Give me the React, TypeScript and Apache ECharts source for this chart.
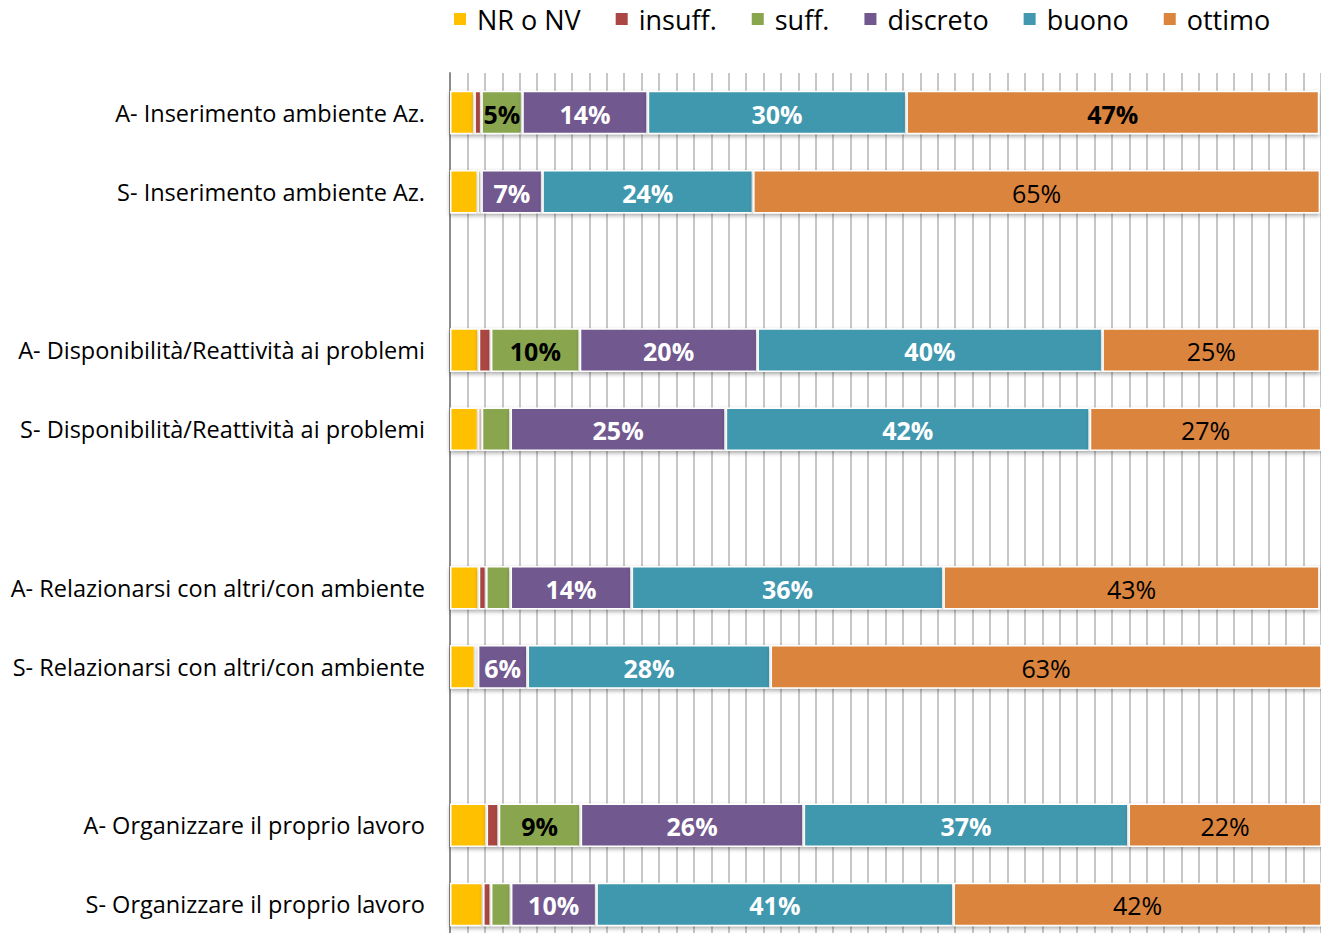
import React, { useEffect, useRef } from "react";
import * as echarts from "echarts";

const categories = [
  "A- Inserimento ambiente Az.",
  "S- Inserimento ambiente Az.",
  "",
  "A- Disponibilità/Reattività ai problemi",
  "S- Disponibilità/Reattività ai problemi",
  " ",
  "A- Relazionarsi con altri/con ambiente",
  "S- Relazionarsi con altri/con ambiente",
  "  ",
  "A- Organizzare il proprio lavoro",
  "S- Organizzare il proprio lavoro",
];

const seriesNames = ["NR o NV", "insuff.", "suff.", "discreto", "buono", "ottimo"];

const nrNv = [2.8, 3.2, null, 3.3, 3.25, null, 3.3, 2.9, null, 4.2, 3.8];
const insuff = [0.8, 0, null, 1.4, 0.4, null, 0.85, 0, null, 1.4, 0.9];
const suff = [4.7, 0.4, null, 10.2, 3.3, null, 2.8, 0.3, null, 9.4, 2.3];
const discreto = [14.4, 7.0, null, 20.4, 24.7, null, 13.9, 5.7, null, 25.6, 9.8];
const buono = [29.7, 24.2, null, 39.6, 41.8, null, 35.8, 27.9, null, 37.3, 41.0];
const ottimo = [47.4, 65.1, null, 25.0, 26.6, null, 43.2, 63.3, null, 22.3, 42.3];

const colors = ["#FFC000", "#AA4643", "#89A54E", "#71588F", "#4198AF", "#DB843D"];
const labelColors = ["#000000", "#000000", "#000000", "#FFFFFF", "#FFFFFF", "#000000"];
const labelWeights = ["bold", "bold", "bold", "bold", "bold", "normal"];
const boldOverrides: Record<string, number[]> = { ottimo: [0] };

const FONT = "'Open Sans', 'Noto Sans', sans-serif";

export default function App() {
  const ref = useRef<HTMLDivElement>(null);

  useEffect(() => {
    if (!ref.current) return;
    const chart = echarts.init(ref.current, null, { renderer: "svg" });
    const allValues = [nrNv, insuff, suff, discreto, buono, ottimo];

    const series = allValues.map((vals, si) => ({
      name: seriesNames[si],
      type: "bar",
      stack: "total",
      barWidth: "55%",
      itemStyle: {
        color: colors[si],
        borderColor: "#FFFFFF",
        borderWidth: 1.5,
        shadowColor: "rgba(0,0,0,0.35)",
        shadowBlur: 4,
        shadowOffsetY: 2,
      },
      label: {
        show: true,
        position: "inside",
        fontFamily: FONT,
        fontSize: 25,
        color: labelColors[si],
        fontWeight: labelWeights[si],
        offset: [0, 1],
        formatter: (p: any) => `${Math.round(p.value)}%`,
      },
      data: vals.map((v, i) => {
        if (v === null) return "-";
        const show = v >= 4.5;
        const bold = (boldOverrides[seriesNames[si]] || []).includes(i);
        return {
          value: v,
          label: bold ? { show, fontWeight: "bold" } : { show },
        };
      }),
    }));

    chart.setOption({
      animation: false,
      textStyle: { fontFamily: FONT },
      legend: {
        left: 452,
        top: 4,
        padding: 0,
        itemWidth: 14,
        itemHeight: 14,
        itemGap: 33,
        icon: "rect",
        data: seriesNames,
        textStyle: { fontSize: 27, color: "#000", fontFamily: FONT, lineHeight: 30, padding: [0, 0, 0, 5] },
      },
      grid: { left: 450, top: 73, width: 871, height: 871, containLabel: false },
      xAxis: {
        type: "value",
        min: 0,
        max: 100,
        interval: 2,
        axisLabel: { show: false },
        axisLine: { show: false },
        axisTick: { show: false },
        splitLine: { show: true, lineStyle: { color: "#B4B4B4", width: 1.5 } },
      },
      yAxis: {
        type: "category",
        inverse: true,
        data: categories,
        axisLine: { show: true, lineStyle: { color: "#8C8C8C", width: 2 } },
        axisTick: { show: false },
        axisLabel: { fontSize: 23.5, color: "#000", fontFamily: FONT, margin: 25 },
        splitLine: { show: false },
      },
      series,
    });

    return () => chart.dispose();
  }, []);

  return (
    <div
      ref={ref}
      style={{ position: "fixed", left: 0, top: 0, width: 1321, height: 960, background: "#fff" }}
    />
  );
}
